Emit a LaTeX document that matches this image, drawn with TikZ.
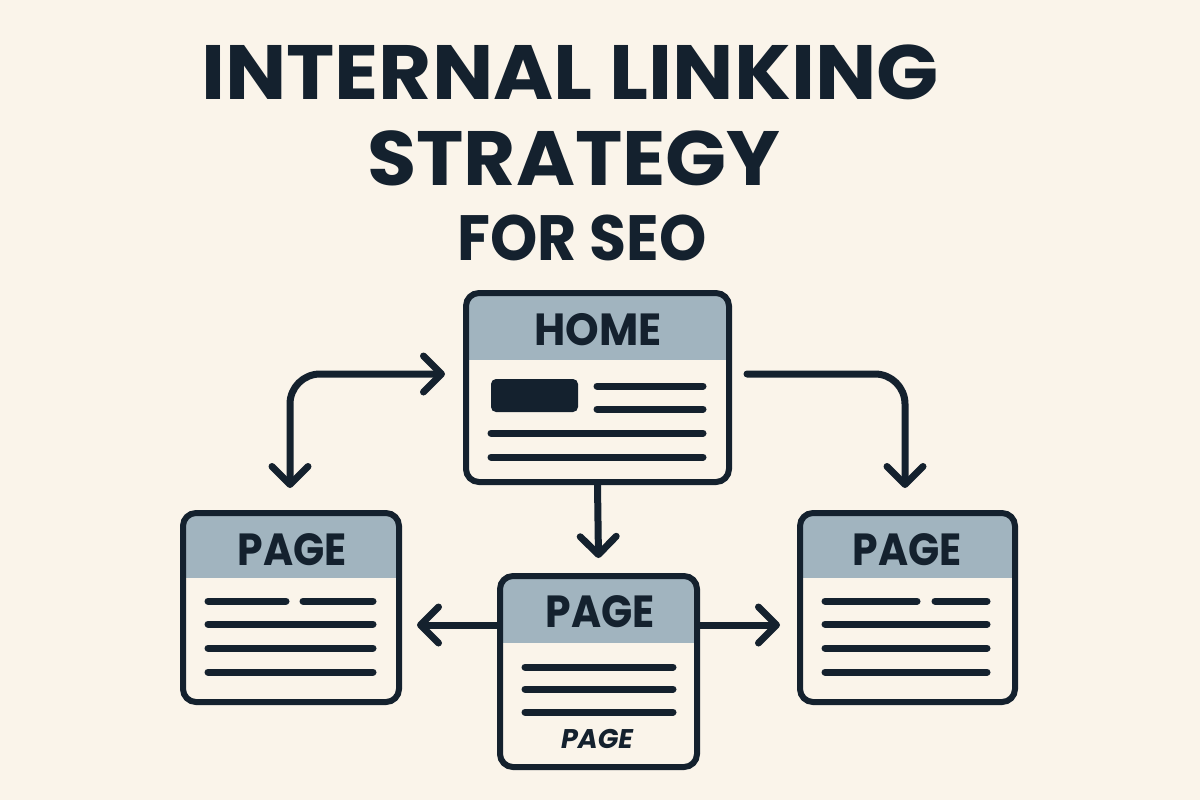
\documentclass[tikz,border=0pt]{standalone}
\usepackage{fontspec}
\setmainfont{Poppins}
\newfontfamily\pop{Poppins}
\usetikzlibrary{arrows.meta,calc}
\definecolor{bg}{HTML}{FAF4EA}
\definecolor{ink}{HTML}{14212E}
\definecolor{hdrcol}{HTML}{A1B4BF}
\tikzset{
  pagebox/.style={draw=ink, line width=3pt, fill=bg, rounded corners=6.5pt, inner sep=0pt},
  hdr/.style={path picture={\fill[hdrcol, sharp corners] ([yshift=2pt,xshift=-2pt]path picture bounding box.north west) rectangle ([yshift=-#1,xshift=2pt]path picture bounding box.north east);}},
  txtline/.style={draw=ink, line width=3.5pt, line cap=round},
  title/.style={text=ink, font=\pop\bfseries, anchor=base, inner sep=0pt},
  label/.style={text=ink, font=\pop\bfseries\fontsize{22.5}{26}\selectfont, anchor=base, inner sep=0pt},
  conn/.style={draw=ink, line width=3.5pt, line cap=round, line join=round,
    arrows={-Straight Barb[length=9pt, width=18pt, line cap=round, line join=round]}},
  connboth/.style={conn, arrows={Straight Barb[length=9pt, width=18pt, line cap=round, line join=round]-Straight Barb[length=9pt, width=18pt, line cap=round, line join=round]}}
}
\begin{document}
\begin{tikzpicture}[x=0.5pt,y=-0.5pt]
\fill[bg] (0,0) rectangle (1200,800);
\useasboundingbox (0,0) rectangle (1200,800);
% title
\node[title, font=\pop\bfseries\fontsize{38.5}{40}\selectfont] (t1) at (570,99) {\scalebox{1.06}[1]{INTERNAL LINKING}};
\node[title, font=\pop\bfseries\fontsize{38.5}{40}\selectfont] (t2) at (574,185) {\scalebox{1.04}[1]{STRATEGY}};
\node[title, font=\pop\bfseries\fontsize{32}{34}\selectfont] (t3) at (582,260) {\scalebox{0.94}[1]{FOR SEO}};
% boxes
\node[pagebox, hdr=33.5pt, minimum width=131.5pt, minimum height=94.5pt] (home) at (597.5,387.5) {};
\node[pagebox, hdr=32.5pt, minimum width=108pt, minimum height=94.5pt] (lp) at (291,607.5) {};
\node[pagebox, hdr=32.5pt, minimum width=107.5pt, minimum height=94.5pt] (rp) at (907.5,607.5) {};
\node[pagebox, hdr=33.5pt, minimum width=98.5pt, minimum height=95.5pt] (mp) at (598.5,671.5) {};
% labels
\node[label] (homet) at (598,345) {\scalebox{0.95}[1]{HOME}};
\node[label] (lpt) at (292,565) {\scalebox{0.91}[1]{PAGE}};
\node[label] (rpt) at (907,565) {\scalebox{0.91}[1]{PAGE}};
\node[label] (mpt) at (600,627) {\scalebox{0.91}[1]{PAGE}};
\node[text=ink, font=\pop\bfseries\itshape\fontsize{13.5}{15}\selectfont, anchor=base, inner sep=0pt] (mpi) at (597,748) {PAGE};
% home content
\fill[ink, rounded corners=2.5pt] (491,379) rectangle (578,412);
\draw[txtline] (597,386) -- (703,386);
\draw[txtline] (597,409) -- (703,409);
\draw[txtline] (491,433) -- (703,433);
\draw[txtline] (491,457) -- (703,457);
% left page content
\draw[txtline] (208,601) -- (286,601);
\draw[txtline] (303,601) -- (373,601);
\draw[txtline] (208,624) -- (373,624);
\draw[txtline] (208,648) -- (373,648);
\draw[txtline] (208,672) -- (373,672);
% right page content
\draw[txtline] (825,601) -- (917,601);
\draw[txtline] (935,601) -- (987,601);
\draw[txtline] (825,624) -- (987,624);
\draw[txtline] (825,648) -- (987,648);
\draw[txtline] (825,672) -- (987,672);
% middle page content
\draw[txtline] (525,667) -- (673,667);
\draw[txtline] (525,689) -- (673,689);
\draw[txtline] (525,712) -- (673,712);
% connectors
\draw[connboth, rounded corners=15pt] ([xshift=-0.5pt,yshift=11pt]lp.north) |- ([xshift=-9pt,yshift=6.75pt]home.west);
\draw[conn, rounded corners=15pt] ([xshift=7.5pt,yshift=6.75pt]home.east) -| ([xshift=-1.25pt,yshift=11pt]rp.north);
\draw[conn] (home.south) -- ([yshift=7.5pt]mp.north);
\coordinate (ml) at ([yshift=23.25pt]mp.west);
\coordinate (mr) at ([yshift=23.25pt]mp.east);
\draw[conn] (ml) -- ($(lp.east|-ml)+(15,0)$);
\draw[conn] (mr) -- ($(rp.west|-mr)+(-17,0)$);
\end{tikzpicture}
\end{document}
